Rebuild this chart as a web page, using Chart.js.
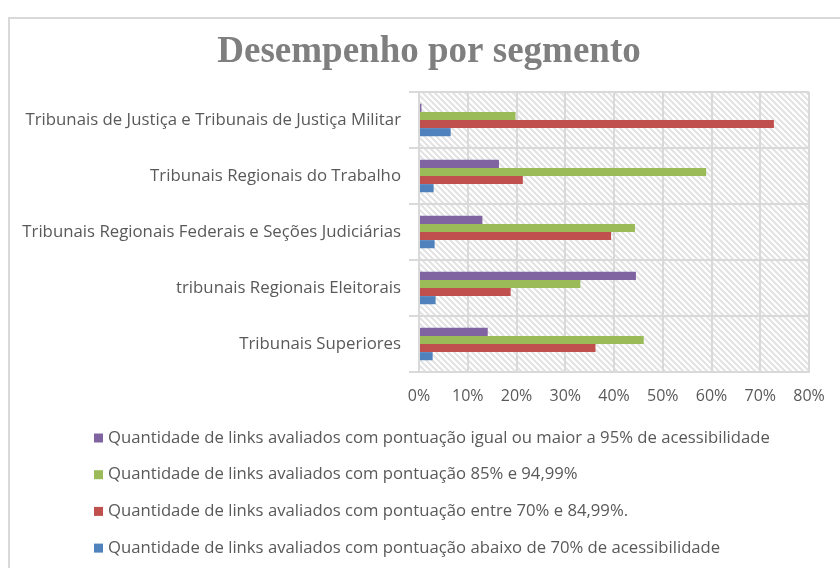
<!DOCTYPE html>
<html>
<head>
<meta charset="utf-8">
<script src="https://cdn.jsdelivr.net/npm/chart.js@4"></script>
<style>
  html, body { margin: 0; padding: 0; background: #ffffff; }
  #frame { position: absolute; left: 8px; top: 17px; width: 900px; height: 600px; border: 2px solid #d9d9d9; }
  #wrap { position: absolute; left: 0; top: 0; width: 840px; height: 568px; }
</style>
</head>
<body>
<div id="frame"></div>
<div id="wrap"><canvas id="segmentChart"></canvas></div>
<script>
const chartTitle = 'Desempenho por segmento';
const categories = [
  'Tribunais de Justiça e Tribunais de Justiça Militar',
  'Tribunais Regionais do Trabalho',
  'Tribunais Regionais Federais e Seções Judiciárias',
  'tribunais Regionais Eleitorais',
  'Tribunais Superiores'
];
const seriesLabels = [
  'Quantidade de links avaliados com pontuação igual ou maior a 95% de acessibilidade',
  'Quantidade de links avaliados com pontuação 85% e 94,99%',
  'Quantidade de links avaliados com pontuação entre 70% e 84,99%.',
  'Quantidade de links avaliados com pontuação abaixo de 70% de acessibilidade'
];
const acima95 = [0.5, 16.4, 13.0, 44.5, 14.1];
const entre85e95 = [19.8, 58.9, 44.3, 33.1, 46.1];
const entre70e85 = [72.8, 21.3, 39.4, 18.8, 36.2];
const abaixo70 = [6.5, 3.0, 3.2, 3.4, 2.8];
const xTicks = [0, 10, 20, 30, 40, 50, 60, 70, 80];

const colors = ['#8064A2', '#9BBB59', '#C0504D', '#4F81BD'];
const gridColor = '#d9d9d9';
const textColor = '#595959';
const labelFont = 'Open Sans';

// hatched background like the excel plot area fill
function makeHatch() {
  const s = 6;
  const c = document.createElement('canvas');
  c.width = s; c.height = s;
  const g = c.getContext('2d');
  g.fillStyle = '#ffffff';
  g.fillRect(0, 0, s, s);
  g.strokeStyle = '#e2e2e2';
  g.lineWidth = 2;
  for (let k = -1; k <= 1; k++) {
    g.beginPath();
    g.moveTo(-1, -1 + k * s);
    g.lineTo(s + 1, s + 1 + k * s);
    g.stroke();
  }
  return g.createPattern(c, 'repeat');
}

const hatchBackground = {
  id: 'hatchBackground',
  beforeDraw(chart) {
    const { ctx, chartArea } = chart;
    ctx.save();
    ctx.fillStyle = makeHatch();
    ctx.fillRect(chartArea.left, chartArea.top, chartArea.right - chartArea.left, chartArea.bottom - chartArea.top);
    ctx.restore();
  }
};

// title (drawn here so it can sit off-centre like in excel) + vertical legend list
const titleAndLegend = {
  id: 'titleAndLegend',
  afterDraw(chart) {
    const { ctx } = chart;
    ctx.save();
    ctx.font = 'bold 37px "Liberation Serif"';
    ctx.fillStyle = '#7f7f7f';
    ctx.textAlign = 'center';
    ctx.textBaseline = 'alphabetic';
    ctx.fillText(chartTitle, 429, 62);

    const x = 94;
    const y0 = 438;
    const step = 36.7;
    ctx.font = '16.7px "' + labelFont + '"';
    ctx.textAlign = 'left';
    ctx.textBaseline = 'middle';
    chart.data.datasets.forEach((ds, i) => {
      const y = y0 + i * step;
      ctx.fillStyle = ds.backgroundColor;
      ctx.fillRect(x, y - 4.5, 9, 9);
      ctx.fillStyle = textColor;
      ctx.fillText(ds.label, x + 14, y);
    });
    ctx.restore();
  }
};

const seriesData = [acima95, entre85e95, entre70e85, abaixo70];

new Chart(document.getElementById('segmentChart').getContext('2d'), {
  type: 'bar',
  data: {
    labels: categories,
    datasets: seriesLabels.map((label, i) => ({
      label: label,
      data: seriesData[i],
      backgroundColor: colors[i],
      borderWidth: 0,
      categoryPercentage: 0.58,
      barPercentage: 1.0
    }))
  },
  options: {
    indexAxis: 'y',
    responsive: true,
    maintainAspectRatio: false,
    animation: false,
    layout: {
      padding: { left: 10, right: 31, top: 92, bottom: 156 }
    },
    plugins: {
      legend: { display: false },
      tooltip: { enabled: false },
      title: { display: false }
    },
    scales: {
      x: {
        min: 0,
        max: 80,
        afterBuildTicks(scale) {
          scale.ticks = xTicks.map(v => ({ value: v }));
        },
        afterFit(scale) { scale.height = 40; },
        ticks: {
          color: textColor,
          font: { family: labelFont, size: 16 },
          padding: 15,
          callback: v => v + '%'
        },
        grid: { color: gridColor, lineWidth: 2, drawTicks: false },
        border: { color: gridColor, width: 2 }
      },
      y: {
        afterFit(scale) { scale.width = 409; },
        ticks: {
          color: textColor,
          font: { family: labelFont, size: 16.8 },
          padding: 8
        },
        grid: { color: gridColor, lineWidth: 2, offset: true, tickLength: 10 },
        border: { color: gridColor, width: 2 }
      }
    }
  },
  plugins: [hatchBackground, titleAndLegend]
});
</script>
</body>
</html>
